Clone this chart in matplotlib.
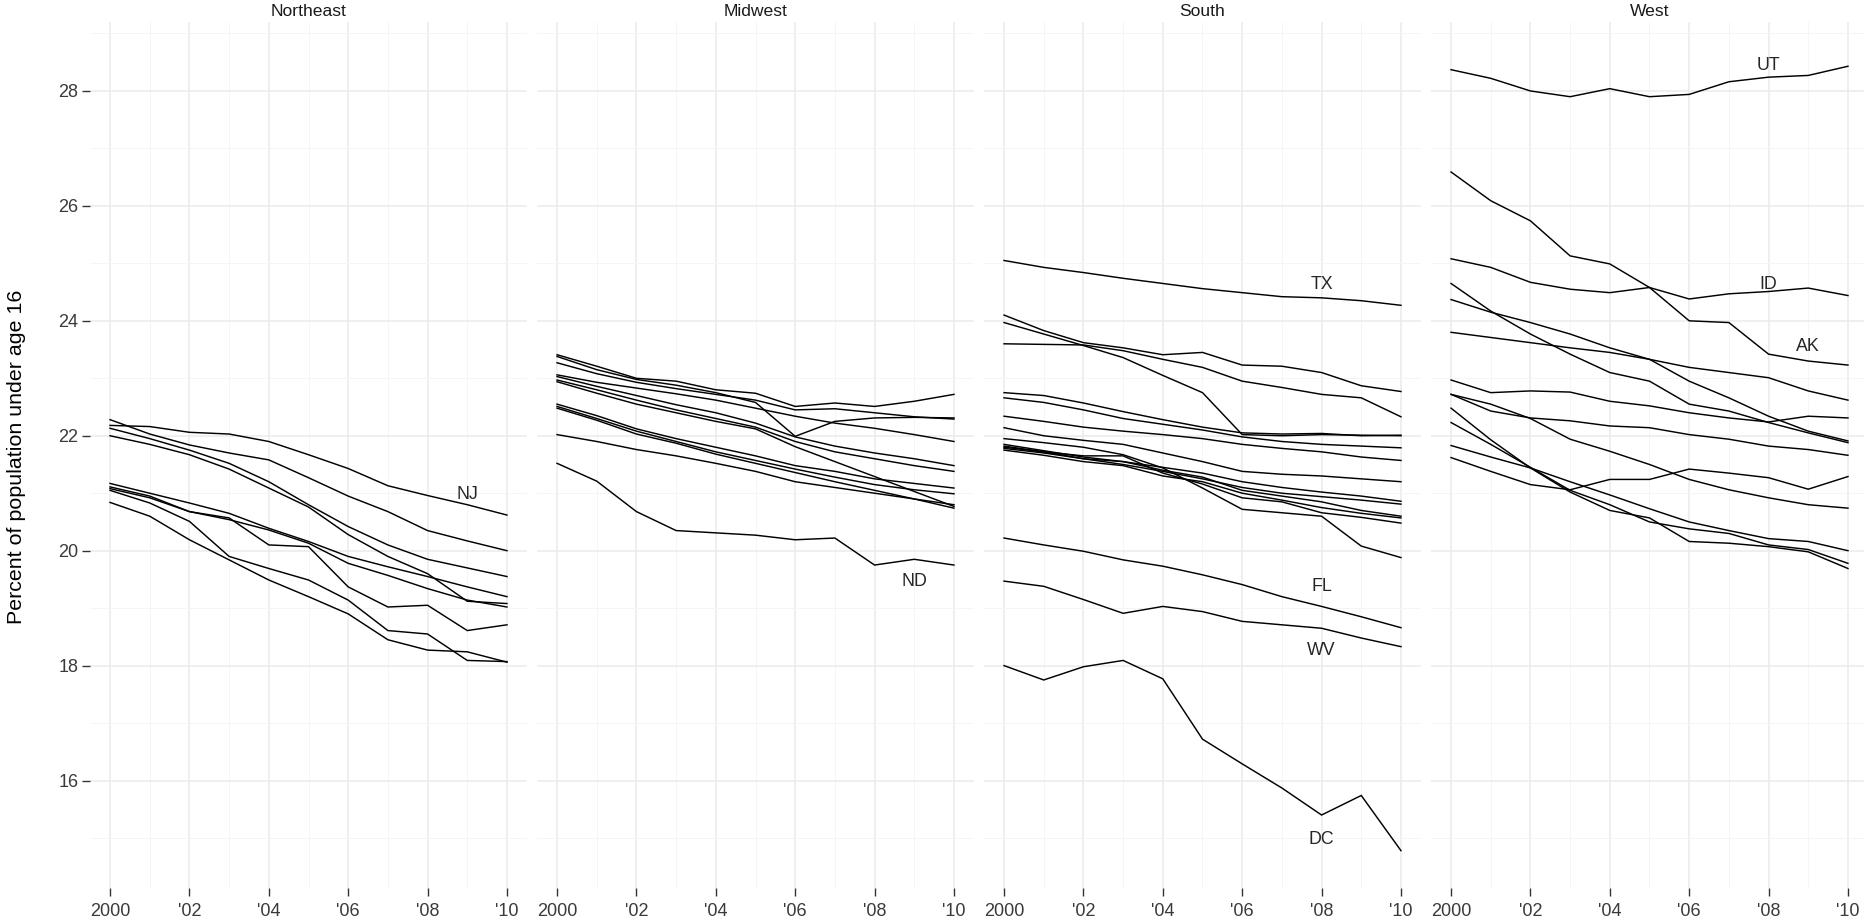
import matplotlib.pyplot as plt

# ============================================================
# DATA  (percent of population under age 16, 2000-2010)
# ============================================================

years       = list(range(2000, 2011))
year_ticks  = [2000, 2002, 2004, 2006, 2008, 2010]
year_labels = ['2000', "'02", "'04", "'06", "'08", "'10"]
pct_ticks   = [16, 18, 20, 22, 24, 26, 28]

regions = ['Northeast', 'Midwest', 'South', 'West']

northeast = [
    [22.18, 22.16, 22.06, 22.03, 21.90, 21.67, 21.43, 21.13, 20.96, 20.80, 20.62],  # NJ
    [22.28, 22.03, 21.84, 21.70, 21.58, 21.27, 20.95, 20.68, 20.35, 20.17, 20.00],
    [22.13, 21.95, 21.75, 21.52, 21.20, 20.80, 20.42, 20.10, 19.85, 19.70, 19.55],
    [22.00, 21.85, 21.67, 21.42, 21.09, 20.76, 20.28, 19.90, 19.60, 19.12, 19.08],
    [21.17, 21.00, 20.83, 20.65, 20.39, 20.16, 19.90, 19.72, 19.55, 19.37, 19.20],
    [21.11, 20.95, 20.68, 20.54, 20.36, 20.13, 19.78, 19.57, 19.34, 19.14, 19.02],
    [21.08, 20.92, 20.68, 20.57, 20.10, 20.07, 19.37, 19.02, 19.05, 18.61, 18.71],
    [21.05, 20.83, 20.51, 19.90, 19.69, 19.49, 19.14, 18.61, 18.55, 18.09, 18.07],
    [20.84, 20.60, 20.19, 19.84, 19.49, 19.20, 18.90, 18.45, 18.27, 18.24, 18.06],
]

midwest = [
    [23.41, 23.21, 23.00, 22.95, 22.80, 22.74, 22.51, 22.57, 22.51, 22.60, 22.72],
    [23.38, 23.15, 22.98, 22.88, 22.75, 22.58, 21.99, 22.25, 22.31, 22.32, 22.31],
    [23.27, 23.08, 22.93, 22.82, 22.72, 22.62, 22.45, 22.47, 22.40, 22.33, 22.29],
    [23.06, 22.93, 22.83, 22.73, 22.62, 22.48, 22.34, 22.22, 22.13, 22.02, 21.90],
    [23.03, 22.86, 22.70, 22.54, 22.40, 22.22, 21.98, 21.82, 21.70, 21.60, 21.48],
    [22.97, 22.80, 22.62, 22.45, 22.30, 22.15, 21.90, 21.72, 21.60, 21.48, 21.38],
    [22.94, 22.74, 22.55, 22.40, 22.25, 22.12, 21.81, 21.55, 21.29, 21.03, 20.77],
    [22.55, 22.35, 22.12, 21.95, 21.80, 21.65, 21.48, 21.38, 21.25, 21.17, 21.09],
    [22.51, 22.30, 22.08, 21.90, 21.72, 21.57, 21.42, 21.28, 21.15, 21.06, 20.99],
    [22.48, 22.27, 22.03, 21.87, 21.68, 21.52, 21.36, 21.20, 21.05, 20.90, 20.74],
    [22.02, 21.90, 21.76, 21.65, 21.52, 21.38, 21.20, 21.10, 21.00, 20.90, 20.80],
    [21.52, 21.21, 20.68, 20.35, 20.31, 20.27, 20.19, 20.22, 19.75, 19.85, 19.75],  # ND
]

south = [
    [25.05, 24.93, 24.84, 24.74, 24.65, 24.56, 24.49, 24.42, 24.40, 24.35, 24.27],  # TX
    [24.10, 23.83, 23.62, 23.53, 23.41, 23.45, 23.23, 23.21, 23.10, 22.87, 22.77],
    [23.60, 23.59, 23.58, 23.48, 23.33, 23.19, 22.95, 22.84, 22.72, 22.66, 22.33],
    [23.97, 23.77, 23.57, 23.36, 23.05, 22.75, 22.02, 22.00, 22.02, 22.01, 22.00],
    [22.75, 22.70, 22.57, 22.42, 22.28, 22.15, 22.05, 22.03, 22.04, 22.00, 22.01],
    [22.66, 22.58, 22.45, 22.30, 22.20, 22.10, 21.98, 21.90, 21.85, 21.82, 21.79],
    [22.34, 22.25, 22.15, 22.08, 22.02, 21.95, 21.85, 21.78, 21.72, 21.63, 21.57],
    [22.14, 22.00, 21.92, 21.85, 21.70, 21.55, 21.38, 21.33, 21.30, 21.25, 21.20],
    [21.85, 21.74, 21.63, 21.55, 21.45, 21.35, 21.20, 21.10, 21.02, 20.95, 20.86],
    [21.82, 21.72, 21.60, 21.50, 21.38, 21.25, 21.10, 21.00, 20.94, 20.88, 20.81],
    [21.78, 21.70, 21.60, 21.55, 21.40, 21.28, 21.05, 20.95, 20.85, 20.70, 20.60],
    [21.75, 21.66, 21.55, 21.48, 21.30, 21.20, 21.00, 20.88, 20.75, 20.65, 20.57],
    [21.80, 21.72, 21.65, 21.65, 21.35, 21.16, 20.92, 20.85, 20.66, 20.58, 20.48],
    [21.95, 21.88, 21.80, 21.67, 21.44, 21.09, 20.72, 20.66, 20.60, 20.08, 19.88],
    [20.22, 20.10, 19.99, 19.84, 19.73, 19.58, 19.41, 19.20, 19.03, 18.85, 18.66],  # FL
    [19.47, 19.38, 19.15, 18.91, 19.03, 18.94, 18.77, 18.71, 18.65, 18.48, 18.33],  # WV
    [18.00, 17.75, 17.98, 18.09, 17.77, 16.72, 16.29, 15.87, 15.40, 15.74, 14.78],  # DC
]

west = [
    [28.37, 28.22, 28.00, 27.90, 28.04, 27.90, 27.94, 28.16, 28.24, 28.27, 28.43],  # UT
    [26.59, 26.09, 25.74, 25.13, 24.99, 24.58, 24.00, 23.97, 23.42, 23.30, 23.23],  # AK
    [25.08, 24.93, 24.67, 24.55, 24.49, 24.58, 24.38, 24.47, 24.51, 24.57, 24.44],  # ID
    [24.65, 24.17, 23.77, 23.42, 23.10, 22.95, 22.55, 22.43, 22.23, 22.05, 21.88],
    [24.37, 24.15, 23.97, 23.77, 23.53, 23.33, 22.95, 22.66, 22.34, 22.08, 21.91],
    [23.80, 23.71, 23.62, 23.53, 23.45, 23.33, 23.19, 23.10, 23.01, 22.78, 22.62],
    [22.97, 22.75, 22.78, 22.76, 22.60, 22.52, 22.40, 22.31, 22.24, 22.34, 22.31],
    [22.72, 22.55, 22.30, 21.94, 21.73, 21.50, 21.24, 21.06, 20.92, 20.80, 20.74],
    [22.72, 22.43, 22.31, 22.26, 22.17, 22.14, 22.02, 21.94, 21.82, 21.76, 21.66],
    [22.48, 21.93, 21.44, 21.02, 20.70, 20.57, 20.16, 20.13, 20.07, 19.98, 19.69],
    [22.23, 21.85, 21.45, 21.05, 20.80, 20.50, 20.38, 20.30, 20.10, 20.02, 19.78],
    [21.83, 21.63, 21.44, 21.20, 20.97, 20.73, 20.50, 20.35, 20.21, 20.16, 20.00],
    [21.62, 21.38, 21.15, 21.06, 21.24, 21.24, 21.42, 21.35, 21.27, 21.07, 21.29],
]

region_lines = [northeast, midwest, south, west]

# state labels: region index, text, position
label_region = [0, 1, 2, 2, 2, 2, 3, 3, 3]
label_text   = ['NJ', 'ND', 'TX', 'FL', 'WV', 'DC', 'UT', 'ID', 'AK']
label_year   = [2009, 2009, 2008, 2008, 2008, 2008, 2008, 2008, 2009]
label_y      = [20.97, 19.46, 24.64, 19.37, 18.26, 14.97, 28.45, 24.64, 23.56]

# ============================================================
# FIGURE
# ============================================================

plt.rcParams['font.family'] = ['Liberation Sans', 'DejaVu Sans']

W, H = 1864, 923
fig = plt.figure(figsize=(W / 100, H / 100), dpi=100)

panel_left  = 90.2
panel_step  = 447.0
panel_w     = 436.6
panel_top   = 22
panel_bot   = 888

TICK_TEXT = '#3a3a3a'

for i, region in enumerate(regions):
    x0 = panel_left + i * panel_step
    ax = fig.add_axes([x0 / W, (H - panel_bot) / H,
                       panel_w / W, (panel_bot - panel_top) / H])

    for vals in region_lines[i]:
        ax.plot(years, vals, color='black', lw=1.05, solid_joinstyle='miter')

    for r, txt, yr, yv in zip(label_region, label_text, label_year, label_y):
        if r == i:
            ax.text(yr, yv, txt, ha='center', va='center',
                    fontsize=12.8, color='#262626')

    ax.set_xlim(1999.5, 2010.5)
    ax.set_ylim(14.13, 29.2)

    ax.set_xticks(year_ticks)
    ax.set_xticklabels(year_labels)
    ax.set_xticks(range(2001, 2010, 2), minor=True)
    ax.set_yticks(pct_ticks)
    ax.set_yticks(range(15, 30, 2), minor=True)

    ax.grid(which='major', color='#ebebeb', lw=1.1)
    ax.grid(which='minor', color='#f5f5f5', lw=0.7)
    ax.set_axisbelow(True)

    for s in ax.spines.values():
        s.set_visible(False)

    ax.tick_params(which='minor', length=0)
    ax.tick_params(axis='x', which='major', direction='out', length=6,
                   width=1.0, color='#333333', labelsize=13,
                   labelcolor=TICK_TEXT, pad=5)
    if i == 0:
        ax.tick_params(axis='y', which='major', direction='out', length=6,
                       width=1.0, color='#333333', labelsize=13,
                       labelcolor=TICK_TEXT, pad=2.5)
    else:
        ax.tick_params(axis='y', which='major', length=0, labelleft=False)

    fig.text((x0 + panel_w / 2) / W, 1 - 12 / H, region, ha='center',
             va='center', fontsize=12.6, color='#1a1a1a')

fig.text(17 / W, 1 - 457 / H, 'Percent of population under age 16',
         rotation=90, ha='center', va='center', fontsize=15.4, color='black')

fig.savefig('out.png', dpi=100)
